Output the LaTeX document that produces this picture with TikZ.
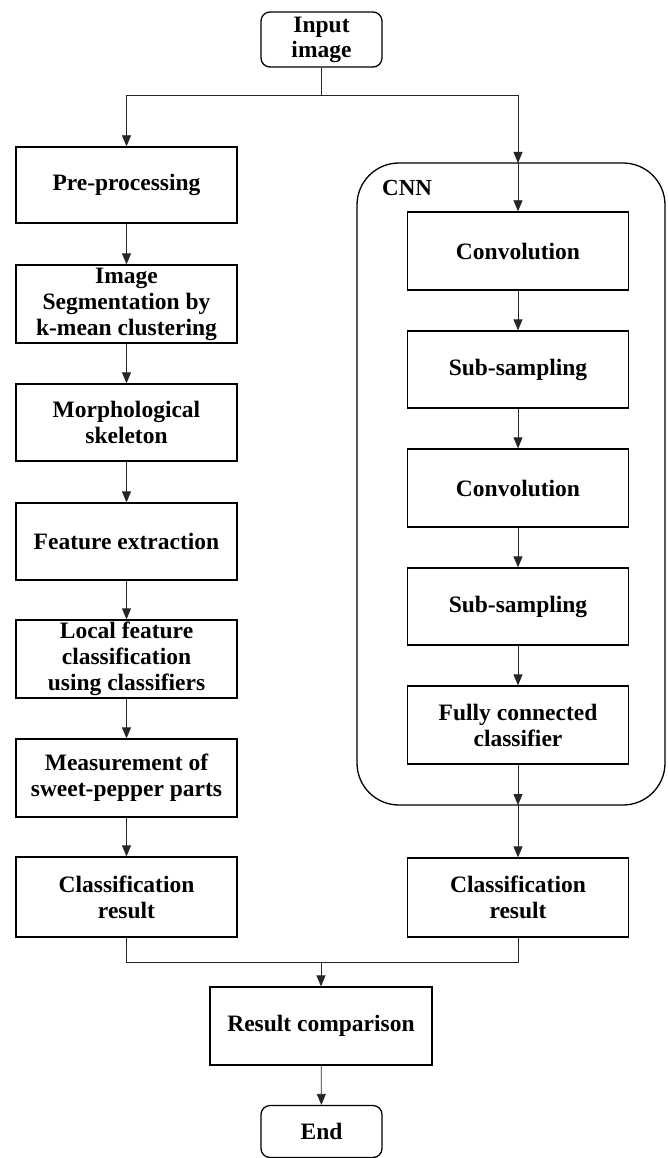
\documentclass[tikz,border=0pt]{standalone}
\usepackage{fontspec}
\setmainfont{Liberation Serif}
\usetikzlibrary{arrows.meta}
\begin{document}
\begin{tikzpicture}[x=1pt,y=-1pt,
  box/.style={draw, line width=1.3pt, minimum width=221pt, minimum height=77pt,
    align=center, inner sep=0pt, font=\fontsize{23.5}{26}\selectfont\bfseries},
  term/.style={draw, line width=1.3pt, rounded corners=9pt, minimum width=121pt,
    minimum height=55pt, align=center, inner sep=0pt, font=\fontsize{23.5}{25}\selectfont\bfseries},
  conn/.style={line width=0.8pt, draw=black!85},
  arr/.style={conn, -{Triangle[length=11pt,width=9pt]}}]
\useasboundingbox (0,0) rectangle (667,1158);
% CNN container
\draw[line width=1.3pt, rounded corners=42pt] (357,163) rectangle (665,805);
\node[anchor=base west, inner sep=0pt, font=\fontsize{23}{24}\selectfont\bfseries] (cnnlbl) at (382,196) {CNN};
\coordinate (cnntop) at (518,163);
\coordinate (cnnbot) at (518,805);
% terminals
\node[term] (input) at (321.5,39.5) {Input\\image};
\node[term, minimum height=52pt] (end) at (321.5,1131.5) {End};
% left column
\node[box, minimum height=76pt] (pre) at (126.5,185) {Pre-processing};
\node[box, minimum height=78pt] (seg) at (126.5,304) {Image\\Segmentation by\\k-mean clustering};
\node[box] (morph) at (126.5,422.5) {Morphological\\skeleton};
\node[box] (feat) at (126.5,541.5) {Feature extraction};
\node[box, minimum height=78pt] (local) at (126.5,659) {Local feature\\classification\\using classifiers};
\node[box, minimum height=78pt] (meas) at (126.5,778) {Measurement of\\sweet-pepper parts};
\node[box, minimum height=80pt] (clsL) at (126.5,897) {Classification\\result};
% right column
\node[box, minimum height=78pt] (conv1) at (518,251) {Convolution};
\node[box] (sub1) at (518,369.5) {Sub-sampling};
\node[box, minimum height=78pt] (conv2) at (518,488) {Convolution};
\node[box] (sub2) at (518,606.5) {Sub-sampling};
\node[box, minimum height=78pt] (fc) at (518,725) {Fully connected\\classifier};
\node[box, minimum height=79pt] (clsR) at (518,897.5) {Classification\\result};
% bottom
\node[box, minimum width=222pt, minimum height=78pt] (res) at (321,1026) {Result comparison};
% connectors
\coordinate (split) at (321.5,95);
\coordinate (splitL) at (126.5,95);
\coordinate (splitR) at (518,95);
\draw[conn] (input.south) -- (split);
\draw[conn] (splitL) -- (splitR);
\draw[arr] (splitL) -- (pre.north);
\draw[arr] (splitR) -- (cnntop);
\draw[arr] (cnntop) -- (conv1.north);
\draw[arr] (pre) -- (seg);
\draw[arr] (seg) -- (morph);
\draw[arr] (morph) -- (feat);
\draw[arr] (feat) -- (local);
\draw[arr] (local) -- (meas);
\draw[arr] (meas) -- (clsL);
\draw[arr] (conv1) -- (sub1);
\draw[arr] (sub1) -- (conv2);
\draw[arr] (conv2) -- (sub2);
\draw[arr] (sub2) -- (fc);
\draw[arr] (fc.south) -- (cnnbot);
\draw[arr] (cnnbot) -- (clsR.north);
\coordinate (joinL) at (126.5,962);
\coordinate (joinR) at (518,962);
\coordinate (join) at (321,962);
\draw[conn] (clsL.south) -- (joinL) -- (joinR) -- (clsR.south);
\draw[arr] (join) -- (res.north);
\draw[arr] (res) -- (end);
\end{tikzpicture}
\end{document}
